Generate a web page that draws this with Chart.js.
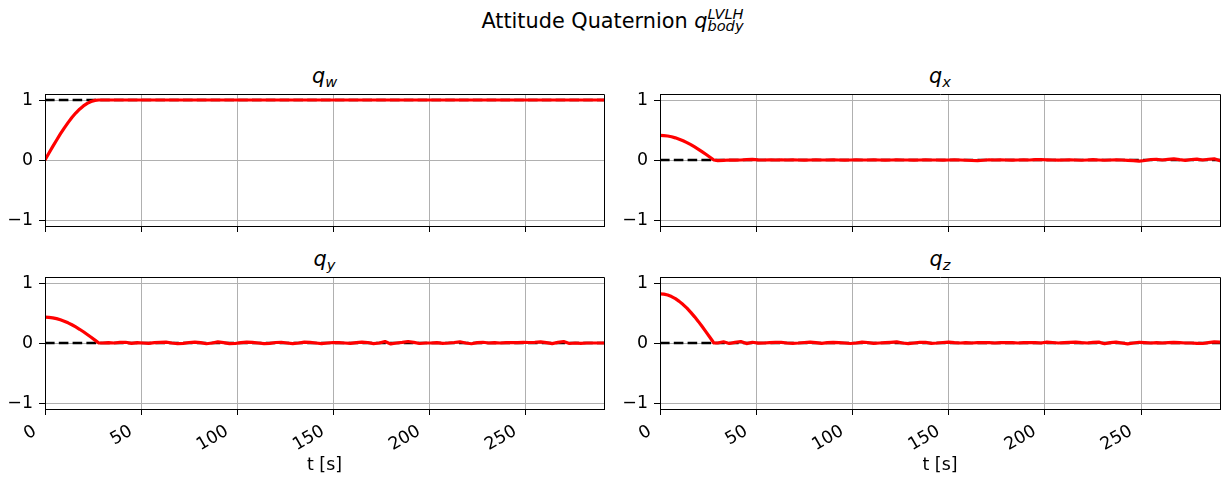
<!DOCTYPE html>
<html><head><meta charset="utf-8">
<script src="https://cdn.jsdelivr.net/npm/chart.js@4/dist/chart.umd.min.js"></script>
<style>
html,body{margin:0;padding:0;background:#fff;}
body{width:1225px;height:484px;position:relative;overflow:hidden;font-family:'DejaVu Sans',sans-serif;color:#000;}
canvas{position:absolute;}
.ttl{position:absolute;text-align:center;font-size:20.8px;line-height:24px;white-space:nowrap;}
.m{font-style:italic;}
.sb{font-size:14.6px;font-style:italic;vertical-align:-4px;line-height:0;}
.ss{display:inline-flex;flex-direction:column;vertical-align:9px;font-size:14.6px;font-style:italic;line-height:12px;text-align:left;}
</style></head><body>
<div class="ttl" style="left:0;width:1225px;top:8px;">Attitude Quaternion <span class="m">q</span><span class="ss"><span>LVLH</span><span>body</span></span></div>
<div class="ttl" style="left:45px;width:559px;top:64px;"><span class="m">q</span><span class="sb">w</span></div>
<div class="ttl" style="left:660px;width:560px;top:64px;"><span class="m">q</span><span class="sb">x</span></div>
<div class="ttl" style="left:45px;width:559px;top:247px;"><span class="m">q</span><span class="sb">y</span></div>
<div class="ttl" style="left:660px;width:560px;top:247px;"><span class="m">q</span><span class="sb">z</span></div>
<canvas id="cw" width="612" height="150" style="left:0;top:84px;width:612px;height:150px"></canvas>
<canvas id="cx" width="613" height="150" style="left:612px;top:84px;width:613px;height:150px"></canvas>
<canvas id="cy" width="612" height="217" style="left:0;top:267px;width:612px;height:217px"></canvas>
<canvas id="cz" width="613" height="217" style="left:612px;top:267px;width:613px;height:217px"></canvas>
<script>
const tGrid = [0,2,4,6,8,10,12,14,16,18,20,22,24,26,28,
  30,33,36,39,42,45,48,51,54,57,
  60,63,66,69,72,75,78,81,84,87,
  90,93,96,99,102,105,108,111,114,117,
  120,123,126,129,132,135,138,141,144,147,
  150,153,156,159,162,165,168,171,174,177,
  180,183,186,189,192,195,198,201,204,207,
  210,213,216,219,222,225,228,231,234,237,
  240,243,246,249,252,255,258,261,264,267,
  270,273,276,279,282,285,288,291];

const qW = [0,0.112,0.223,0.330,0.434,0.532,0.623,0.707,0.782,0.847,0.901,0.944,0.975,0.994,1.0,
  1,1,1,1,1,1,1,1,1,1,
  1,1,1,1,1,1,1,1,1,1,
  1,1,1,1,1,1,1,1,1,1,
  1,1,1,1,1,1,1,1,1,1,
  1,1,1,1,1,1,1,1,1,1,
  1,1,1,1,1,1,1,1,1,1,
  1,1,1,1,1,1,1,1,1,1,
  1,1,1,1,1,1,1,1,1,1,
  1,1,1,1,1,1,1,1];

const qX = [0.41,0.407,0.400,0.387,0.369,0.347,0.321,0.290,0.256,0.218,0.178,0.135,0.091,0.046,0.0,
  -0.01,-0.005,0,-0.003,0,0.005,0.01,0.002,0,0.002,
  0,0.003,0,0.002,0,-0.002,0,0.002,0,0,
  0.002,0,-0.002,0,0.002,0,0,0.002,0,-0.002,
  0,0.002,0,0,-0.002,0,0.002,0,0,-0.003,
  0,0.003,0,-0.004,-0.008,-0.012,-0.004,0.004,0,0.003,
  0,-0.003,0,0.004,0,0.005,0.008,0.003,0,-0.003,
  0,0.004,0,-0.004,0,0.005,0,-0.004,0,0.004,
  0,-0.006,-0.01,-0.02,-0.008,0.008,0.012,0,0.01,0.018,
  0.005,-0.005,0.008,0.015,0,0.012,0.02,-0.01];

const qY = [0.43,0.427,0.419,0.406,0.387,0.364,0.336,0.304,0.268,0.229,0.187,0.142,0.096,0.048,0.0,
  0,0.005,0,0.01,0.012,-0.005,0.005,0,-0.005,0.005,
  0.012,0.015,0,-0.012,-0.005,0.008,0.015,0.005,-0.012,0,
  0.018,0.005,-0.01,-0.008,0.005,0.015,0.01,0,-0.01,-0.005,
  0.008,0.012,0,-0.01,0,0.015,0.01,0,-0.01,0,
  0.008,0.005,0,-0.005,0.005,0.015,0.008,-0.01,0,0.025,
  -0.015,0,0.01,0.025,0.01,-0.008,0,0,0.005,-0.005,
  0,0.008,0.02,0,-0.012,0.005,0.012,0,0.005,0,
  0.005,0.008,0.005,0.01,0.008,0.012,0.02,0.005,-0.01,0.01,
  0.025,-0.008,0,-0.005,0,0,0,0];

const qZ = [0.82,0.815,0.799,0.774,0.739,0.694,0.641,0.580,0.511,0.436,0.356,0.271,0.182,0.092,0.0,
  0,0.02,-0.008,0.01,0.025,-0.01,0.012,-0.003,0,0.005,
  0.012,0.01,0,-0.005,0,0.008,0.015,0.005,-0.005,0.005,
  0.012,0.005,0,-0.008,0,0.015,0.008,-0.005,0,0.005,
  0.012,0.018,0,-0.01,0,0.01,0.012,-0.005,0,0.008,
  0.015,0.005,0,0.005,0,0.005,0.008,0.005,0,0.005,
  0.008,0.005,0,0.005,0.008,0.005,0,0.015,0.008,0,
  0.005,0.01,0.015,0.005,0,0.01,0.015,-0.012,0.005,0.015,
  0,-0.015,0,0.012,0.005,0,0.005,0,0.005,0.012,
  0.005,0,0,-0.005,-0.008,0.005,0.02,0.015];

const refT = [0, 291];
const refW = [1, 1];
const refXYZ = [0, 0];
const xTicks = [0, 50, 100, 150, 200, 250];
const yTicks = [-1, 0, 1];
const xMax = 291;
const yMin = -1.1, yMax = 1.1;

const FONT = 'DejaVu Sans';
const TICK_FONT = 17.4;

function alignPx(p){ return Math.round(p - 0.5) + 0.5; }
const framePlugin = {
  id: 'frame',
  afterDraw(chart){
    const a = chart.chartArea, c = chart.ctx;
    c.save();
    c.strokeStyle = '#000'; c.lineWidth = 1;
    c.beginPath();
    c.rect(alignPx(a.left), alignPx(a.top), alignPx(a.right) - alignPx(a.left), alignPx(a.bottom) - alignPx(a.top));
    c.stroke();
    c.restore();
  }
};

function fmt(v){ return v < 0 ? '\u2212' + Math.abs(v) : String(v); }

function panel(id, series, ref, bottom, yW, padRight){
  new Chart(document.getElementById(id), {
    type: 'line',
    data: { datasets: [
      { data: tGrid.map((t,i)=>({x:t, y:series[i]})), borderColor:'#ff0000', borderWidth:3.2,
        pointRadius:0, tension:0, fill:false, borderJoinStyle:'round', borderCapStyle:'round' },
      { data: refT.map((t,i)=>({x:t, y:ref[i]})), borderColor:'#000000', borderWidth:2.4,
        borderDash:[9.6,4.2], pointRadius:0, fill:false }
    ]},
    options: {
      responsive:false, animation:false, devicePixelRatio:1, events:[],
      layout:{ padding:{ left:0, right:padRight, top:10, bottom:0 } },
      plugins:{ legend:{display:false}, tooltip:{enabled:false}, title:{display:false} },
      scales:{
        x:{
          type:'linear', min:0, max:xMax,
          afterBuildTicks(s){ s.ticks = xTicks.map(v=>({value:v})); },
          grid:{ color:'#b0b0b0', lineWidth:1, tickColor:'#000', tickLength:6, drawTicks:true },
          border:{ color:'#000', width:1 },
          ticks:{ autoSkip:false, minRotation:30, maxRotation:30, padding:6, labelOffset:-10,
            font:{ family:FONT, size:TICK_FONT }, color:'#000',
            callback:(v)=> bottom ? fmt(v) : '' },
          title:{ display:bottom, text:'t [s]', color:'#000', font:{ family:FONT, size:TICK_FONT },
            padding:{ top:4, bottom:8 } },
          afterFit(s){ s.height = bottom ? 75 : 8; s.paddingLeft = 0; s.paddingRight = 0; }
        },
        y:{
          type:'linear', min:yMin, max:yMax,
          afterBuildTicks(s){ s.ticks = yTicks.map(v=>({value:v})); },
          grid:{ color:'#b0b0b0', lineWidth:1, tickColor:'#000', tickLength:6, drawTicks:true },
          border:{ color:'#000', width:1 },
          ticks:{ padding:6, font:{ family:FONT, size:TICK_FONT }, color:'#000', callback:(v)=>fmt(v) },
          afterFit(s){ s.width = yW; s.paddingTop = 0; s.paddingBottom = 0; }
        }
      }
    },
    plugins:[framePlugin]
  });
}

panel('cw', qW, refW, false, 45, 8);
panel('cx', qX, refXYZ, false, 48, 5);
panel('cy', qY, refXYZ, true, 45, 8);
panel('cz', qZ, refXYZ, true, 48, 5);
</script>
</body></html>
